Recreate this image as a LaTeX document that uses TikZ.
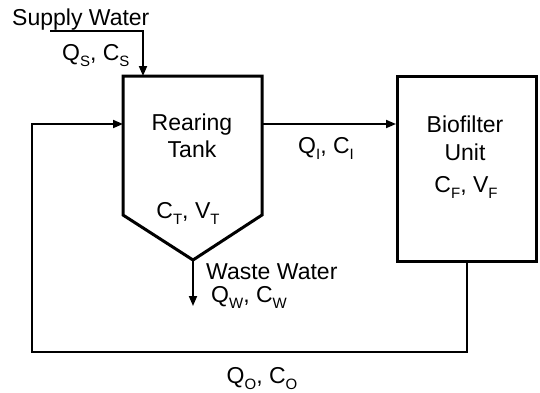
\documentclass[tikz,border=0pt]{standalone}
\usepackage{fontspec}
\setmainfont{Liberation Sans}
\usetikzlibrary{arrows.meta}
\newcommand\sbs[1]{\raisebox{-0.3em}{\fontsize{15}{15}\selectfont #1}}
\begin{document}
\begin{tikzpicture}[x=1pt,y=-1pt,font=\fontsize{23}{27}\selectfont,
  lbl/.style={inner sep=0pt,anchor=base},
  lblw/.style={inner sep=0pt,anchor=base west},
  unitbox/.style={line width=3pt,line join=miter},
  flow/.style={line width=1.8pt,-{Triangle[length=10pt,width=8pt]}},
  pipe/.style={line width=1.8pt}]
\useasboundingbox (0,0) rectangle (540,392);
% rearing tank
\coordinate (tTL) at (123,76);
\coordinate (tTR) at (262,76);
\coordinate (tBR) at (262,215);
\coordinate (apex) at (193,260);
\coordinate (tBL) at (123,215);
\draw[unitbox] (tTL) -- (tTR) -- (tBR) -- (apex) -- (tBL) -- cycle;
\node[lbl] (rear) at (192,130) {Rearing};
\node[lbl] (tank) at (192,157) {Tank};
\node[lbl] (ctvt) at (188,218) {C\sbs{T}, V\sbs{T}};
% biofilter
\node[draw,unitbox,minimum width=139pt,minimum height=185pt,inner sep=0pt] (bio) at (467,169) {};
\node[lbl] (biot) at (465,132) {Biofilter};
\node[lbl] (unit) at (465,160) {Unit};
\node[lbl] (cfvf) at (466,192) {C\sbs{F}, V\sbs{F}};
% supply
\coordinate (sup) at (50,31);
\coordinate (supin) at (143,76);
\draw[flow] (sup) -| (supin);
\node[lblw] (suptxt) at (12,25) {Supply Water};
\node[lblw] (qs) at (62,60) {Q\sbs{S}, C\sbs{S}};
% tank to biofilter
\coordinate (tout) at (262,124);
\draw[flow] (tout) -- (tout -| bio.west);
\node[lbl] (qi) at (326,153) {Q\sbs{I}, C\sbs{I}};
% waste
\coordinate (wout) at (193,306);
\draw[flow] (apex) -- (wout);
\node[lblw] (wtxt) at (206,279) {Waste Water};
\node[lblw] (qw) at (211,302) {Q\sbs{W}, C\sbs{W}};
% return
\coordinate (retL) at (32,352);
\coordinate (tin) at (123,124);
\draw[flow] (bio.south) |- (retL) |- (tin);
\node[lbl] (qo) at (262,383) {Q\sbs{O}, C\sbs{O}};
\end{tikzpicture}
\end{document}
